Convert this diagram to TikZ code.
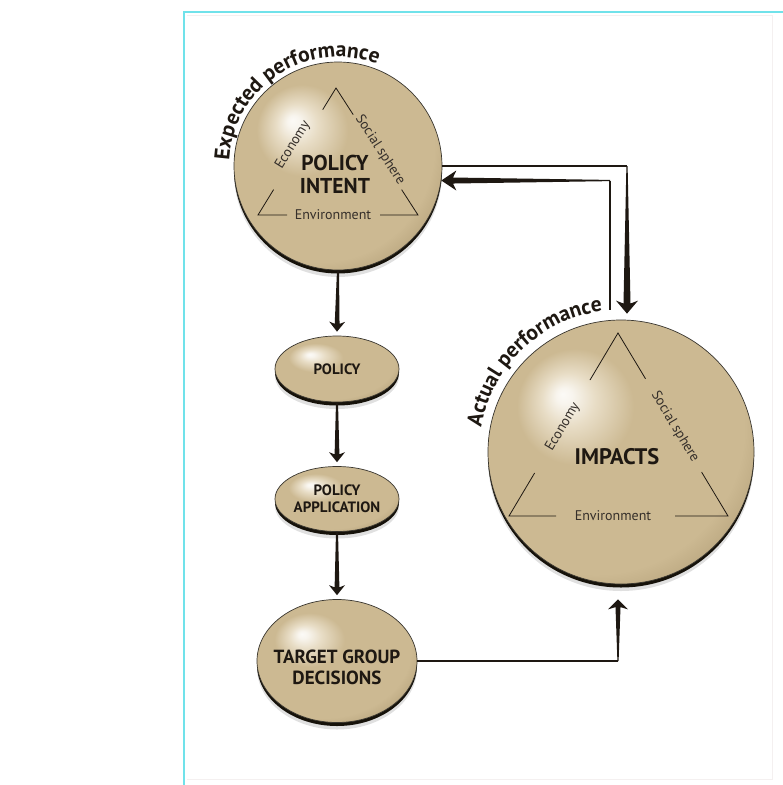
\documentclass[tikz,border=0pt]{standalone}
\usepackage{fontspec}
\setmainfont{PT Sans}
\usetikzlibrary{calc,shapes.geometric,shadows,decorations.text}

\definecolor{framecyan}{RGB}{112,226,234}
\definecolor{framefaint}{RGB}{244,240,240}
\definecolor{tanlight}{RGB}{232,221,198}
\definecolor{tanmid}{RGB}{204,185,146}
\definecolor{tandark}{RGB}{165,145,106}
\definecolor{ink}{RGB}{30,24,18}
\definecolor{rim}{RGB}{22,18,10}

% glossy tan body: small highlight up-left, darker towards the lower right
\pgfdeclareradialshading{tanball}{\pgfpoint{-11bp}{11bp}}{%
  color(0bp)=(white!85!tanlight); color(1.5bp)=(white!70!tanlight); color(5bp)=(tanlight);
  color(11bp)=(tanmid); color(28bp)=(tanmid); color(37bp)=(tandark);
  color(50bp)=(tandark)}

% tapered arrow: from, to, tail half-width, neck half-width, head half-width, head length
\newcommand\taperarrow[6]{%
  \coordinate (ta) at (#1);
  \coordinate (tb) at (#2);
  \coordinate (tm) at ($(tb)!#6!(ta)$);
  \coordinate (tn) at ($(tb)!0.78!(tm)$);
  \fill[ink] ($(ta)!#3!90:(tb)$) -- ($(tn)!#4!90:(tb)$) -- ($(tm)!#5!90:(tb)$) -- (tb)
     -- ($(tm)!#5!-90:(tb)$) -- ($(tn)!#4!-90:(tb)$) -- ($(ta)!#3!-90:(tb)$) -- cycle;
}

\tikzset{
  ball/.style={ellipse, inner sep=0pt, shade, shading=tanball, draw=rim!85, line width=0.7pt,
    general shadow={shadow scale=1, shadow xshift=0pt, shadow yshift=-7pt, fill=black, opacity=0.12},
    general shadow={shadow scale=1, shadow xshift=0pt, shadow yshift=-3.5pt, fill=rim, opacity=1},
    text=ink, align=center},
  bigbold/.style={font=\bfseries\fontsize{21.5}{23}\selectfont, text=ink, align=center},
  midbold/.style={font=\bfseries\fontsize{15}{17}\selectfont, text=ink, align=center},
  sidelabel/.style={font=\fontsize{14}{15}\selectfont, text=ink!90, inner sep=0pt},
  arclabel/.style={decorate, decoration={text along path, text align=left, text color=ink,
    text={|\bfseries\fontsize{21.5}{24}\selectfont|#1}}},
  tri/.style={line width=0.8pt, draw=ink},
  thinline/.style={line width=1.2pt, draw=ink},
}

\begin{document}
\begin{tikzpicture}[x=1pt,y=1pt]
\useasboundingbox (0,0) rectangle (783,-785);
\fill[white] (0,0) rectangle (783,-785);

% frame
\draw[framefaint, line width=1pt] (187,-15) -- (772,-15) -- (772,-779) -- (187,-779);
\draw[framecyan, line width=2pt] (183.5,-785) -- (183.5,-11.5) -- (783,-11.5);

% balls
\node[ball, minimum width=208pt, minimum height=208pt] (pi) at (338,-166) {};
\node[ball, minimum width=266pt, minimum height=264pt] (imp) at (621,-452) {};
\node[ball, midbold, minimum width=124pt, minimum height=66pt] (pol) at (337,-369) {POLICY};
\node[ball, midbold, minimum width=124pt, minimum height=65pt] (app) at (337,-499) {POLICY\\APPLICATION};
\node[ball, minimum width=160pt, minimum height=123pt] (tgd) at (337,-661) {};
\node[font=\bfseries\fontsize{19}{21}\selectfont, text=ink, align=center] (tgd-txt)
  at ($(tgd.center)+(0,-6)$) {TARGET GROUP\\DECISIONS};

% policy intent triangle
\begin{scope}[shift={(pi.center)}]
  \coordinate (pa) at (-2,78);
  \coordinate (pl) at (-80,-49);
  \coordinate (pr) at (80,-49);
  \draw[tri] (-51,-49) -- (pl) -- ($(pl)!0.2!(pa)$);
  \draw[tri] ($(pl)!0.83!(pa)$) -- (pa) -- ($(pr)!0.79!(pa)$);
  \draw[tri] ($(pr)!0.2!(pa)$) -- (pr) -- (42,-49);
  \node[sidelabel, rotate=58.4] (pi-eco) at (-45,21) {Economy};
  \node[sidelabel, rotate=-57.2] (pi-soc) at (42,16) {Social sphere};
  \node[sidelabel] (pi-env) at (-5,-49) {Environment};
  \node[bigbold] (pi-txt) at (-3,-8) {POLICY\\INTENT};
\end{scope}

% impacts triangle
\begin{scope}[shift={(imp.center)}]
  \coordinate (ia) at (-3,119);
  \coordinate (il) at (-112,-64);
  \coordinate (ir) at (107,-64);
  \draw[tri] (-65,-64) -- (il) -- ($(il)!0.235!(ia)$);
  \draw[tri] ($(il)!0.743!(ia)$) -- (ia) -- ($(ir)!0.75!(ia)$);
  \draw[tri] ($(ir)!0.24!(ia)$) -- (ir) -- (54,-64);
  \node[sidelabel, rotate=59.2] (imp-eco) at (-58,25) {Economy};
  \node[sidelabel, rotate=-59] (imp-soc) at (54,25) {Social sphere};
  \node[sidelabel] (imp-env) at (-8,-64) {Environment};
  \node[bigbold, font=\bfseries\fontsize{22.5}{24}\selectfont] (imp-txt) at (-4,-5) {IMPACTS};
\end{scope}

% curved captions
\path[arclabel={Expected performance}]
  ($(pi.center)+(177:109)$) arc[start angle=177, end angle=30, radius=109];
\path[arclabel={Actual performance}]
  ($(imp.center)+(170:142)$) arc[start angle=170, end angle=40, radius=142];

% chain arrows
\taperarrow{pi.south}{$(pol.north)+(0,4)$}{1pt}{2.4pt}{8pt}{10pt}
\taperarrow{pol.south}{$(app.north)+(0,4)$}{1pt}{2.4pt}{8pt}{10pt}
\taperarrow{app.south}{$(tgd.north)+(0,4)$}{1pt}{2.4pt}{8pt}{10pt}

% decisions to impacts
\coordinate (c3) at ($(tgd.east -| imp.south)+(-3,0)$);
\coordinate (t3) at ($(imp.south)+(-3,-15)$);
\draw[thinline] (tgd.east) -- (c3);
\taperarrow{c3}{t3}{0.6pt}{2.5pt}{10pt}{10pt}

% expected to actual
\coordinate (t1) at ($(imp.north)+(6,6)$);
\coordinate (c1) at (pi.east -| t1);
\draw[thinline] (pi.east) -- (c1);
\taperarrow{c1}{t1}{0.6pt}{3.5pt}{11pt}{13pt}

% actual back to intent
\coordinate (s2) at ($(imp.north)+(-11,10)$);
\coordinate (t2) at (pi.-8);
\coordinate (c2) at (s2 |- t2);
\draw[thinline] (s2) -- (c2);
\taperarrow{c2}{t2}{0.6pt}{3pt}{10pt}{15pt}
\end{tikzpicture}
\end{document}
